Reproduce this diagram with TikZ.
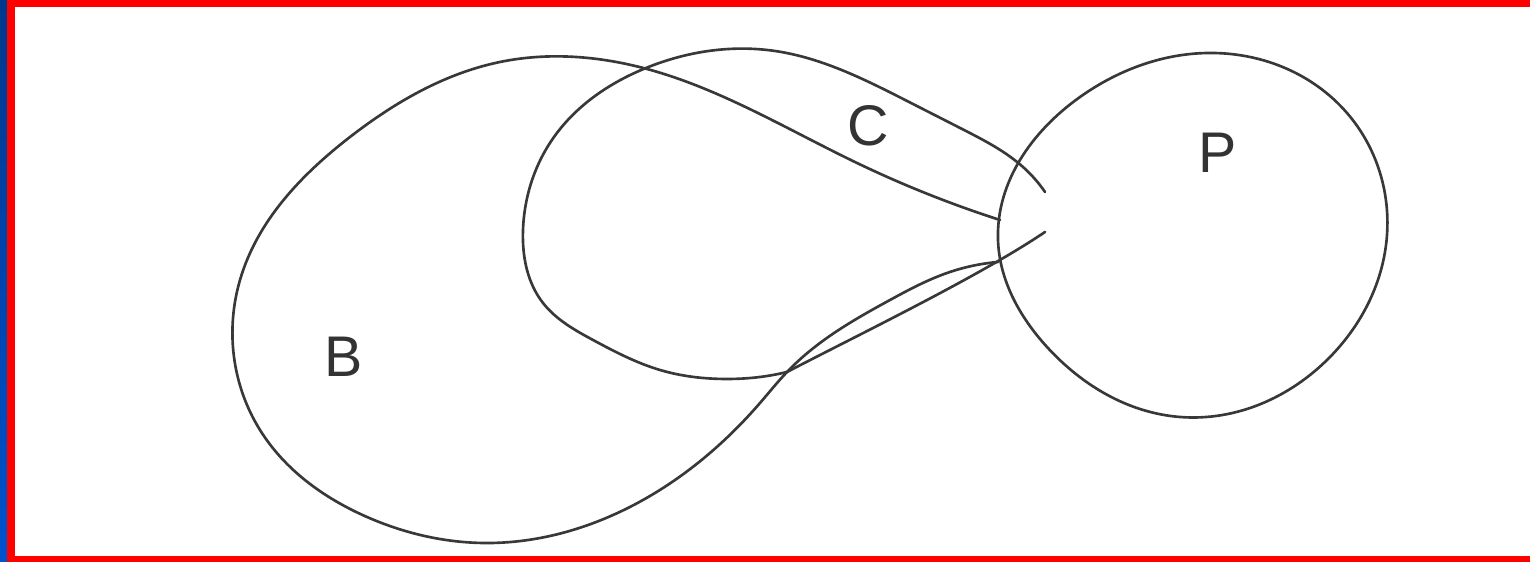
\documentclass[tikz,border=0pt]{standalone}
\usepackage{fontspec}
\setsansfont{Liberation Sans}
\usepackage{tikz}
\usetikzlibrary{hobby}
\tikzset{
  outline/.style={line width=0.75pt, black!78, line cap=round, line join=round},
  freehand/.style={outline, use Hobby shortcut},
  lbl/.style={font=\sffamily\fontsize{16.3}{18}\selectfont, text=black!80, inner sep=0pt},
}

\begin{document}
\begin{tikzpicture}[x=0.01cm,y=-0.01cm]
\useasboundingbox (0,0) rectangle (1530,562);
\fill[white] (0,0) rectangle (1530,562);
\shade[top color={rgb,255:red,0;green,56;blue,140}, bottom color={rgb,255:red,0;green,82;blue,205}] (0,0) rectangle (7,562);
\fill[red] (7,0) rectangle (15,562);
\fill[red] (7,0) rectangle (1530,7);
\fill[red] (7,556) rectangle (1530,562);
\draw[freehand, closed=true] (1213,53) .. (1347,113) .. (1387,235) .. (1330,357) .. (1180,417) .. (1047,347) .. (998,240) .. (1080,97);
\draw[freehand] (1000,220) .. (857,163) .. (647,69) .. (500,62) .. (350,137) .. (240,280) .. (260,430) .. (367,517) .. (483,543) .. (643,500) .. (760,403) .. (787,372) .. (820,343) .. (890,300) .. (947,273) .. (998,262);
\draw[freehand] (1045,192) .. (1023,167) .. (964,130) .. (911,103) .. (775,51) .. (646,68) .. (554,137) .. (523,230) .. (543,303) .. (593,340) .. (660,370) .. (727,379) .. (760,377) .. (787,372);
\draw[outline] (787,372) .. controls (860,334) and (980,276) .. (1045,232);
\node[lbl] (labB) at (344,357) {B};
\node[lbl] (labC) at (868,126) {C};
\node[lbl] (labP) at (1218,153) {P};
\end{tikzpicture}
\end{document}
